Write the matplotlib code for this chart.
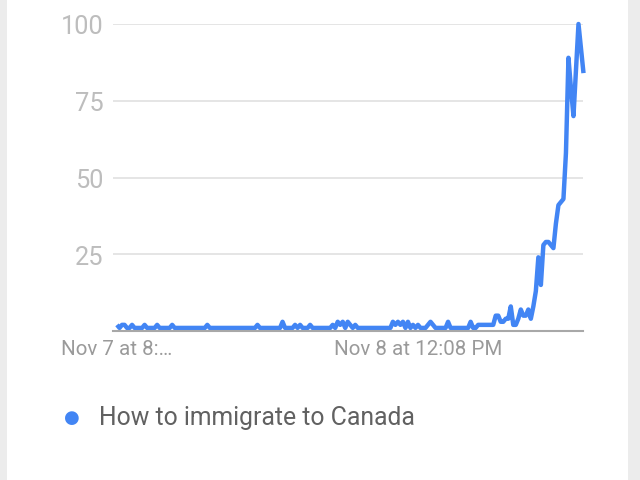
import matplotlib
matplotlib.use("Agg")
import matplotlib.pyplot as plt
from matplotlib.patches import Rectangle

series_name = "How to immigrate to Canada"
values = [
    2, 1, 2, 2, 1, 1, 2, 1, 1, 1,   # 0-9
    1, 2, 1, 1, 1, 1, 2, 1, 1, 1,   # 10-19
    1, 1, 2, 1, 1, 1, 1, 1, 1, 1,   # 20-29
    1, 1, 1, 1, 1, 1, 2, 1, 1, 1,   # 30-39
    1, 1, 1, 1, 1, 1, 1, 1, 1, 1,   # 40-49
    1, 1, 1, 1, 1, 1, 2, 1, 1, 1,   # 50-59
    1, 1, 1, 1, 1, 1, 3, 1, 1, 1,   # 60-69
    1, 2, 1, 2, 1, 1, 1, 2, 1, 1,   # 70-79
    1, 1, 1, 1, 1, 1, 2, 1, 3, 2,   # 80-89
    3, 1, 3, 2, 1, 2, 1, 1, 1, 1,   # 90-99
    1, 1, 1, 1, 1, 1, 1, 1, 1, 1,   # 100-109
    3, 2, 3, 2, 3, 1, 3, 1, 2, 1,   # 110-119
    2, 1, 1, 1, 2, 3, 2, 1, 1, 1,   # 120-129
    1, 1, 3, 1, 1, 1, 1, 1, 1, 1,   # 130-139
    1, 3, 1, 1, 2, 2, 2, 2, 2, 2,   # 140-149
    2, 5, 5, 3, 3, 4, 4, 8, 2, 2,   # 150-159
    4, 7, 5, 5, 7, 4, 8, 13, 24, 15,  # 160-169
    28, 29, 29, 28, 27, 35, 41, 42, 43, 58,  # 170-179
    89, 79, 70, 85, 100, 92, 84,    # 180-186
]
tick_positions = [0, 120]
tick_labels = ["Nov 7 at 8:\u2026", "Nov 8 at 12:08 PM"]
y_ticks = [0, 25, 50, 75, 100]
y_tick_labels = ["", "25", "50", "75", "100"]

plt.rcParams['font.family'] = ['Roboto', 'DejaVu Sans']

W, H = 640, 481
fig = plt.figure(figsize=(W / 100, H / 100), dpi=100)
fig.patch.set_facecolor('white')

# side gray strips of the card background
fig.patches.append(Rectangle((0, 0), 7 / W, 1, transform=fig.transFigure,
                             facecolor='#ececec', edgecolor='none', zorder=0))
fig.patches.append(Rectangle((628 / W, 0), 12 / W, 1, transform=fig.transFigure,
                             facecolor='#ececec', edgecolor='none', zorder=0))

left, right, top, bottom = 113, 583, 25, 332
ax = fig.add_axes([left / W, 1 - bottom / H, (right - left) / W, (bottom - top) / H])
ax.set_facecolor('none')

x = list(range(len(values)))
ax.plot(x, values, color='#4285f4', lw=3.2, solid_joinstyle='round',
        solid_capstyle='butt', clip_on=False, zorder=3)

ax.set_xlim(-1.6, 185.8)
ax.set_ylim(0, 100)

ax.set_yticks(y_ticks)
ax.set_yticklabels(y_tick_labels)
ax.set_xticks(tick_positions)
ax.set_xticklabels(tick_labels)

ax.grid(axis='y', color='#e3e3e3', lw=1.3)
ax.set_axisbelow(True)
for s in ['top', 'right', 'left']:
    ax.spines[s].set_visible(False)
ax.spines['bottom'].set_color('#a8a8a8')
ax.spines['bottom'].set_linewidth(1.5)
ax.spines['bottom'].set_zorder(4)

ax.tick_params(axis='y', length=0, pad=7, labelsize=18.3, labelcolor='#bdbdbd')
ax.tick_params(axis='x', length=0, pad=6, labelsize=14.8, labelcolor='#9a9a9a')

# legend
fig.text(72 / W, 1 - 418 / H, "\u25CF", color='#4285f4', fontsize=13,
         ha='center', va='center', family=['DejaVu Sans'])
fig.text(99 / W, 1 - 418 / H, series_name, color='#616161', fontsize=17.8,
         ha='left', va='center')

fig.savefig('out.png', dpi=100)
